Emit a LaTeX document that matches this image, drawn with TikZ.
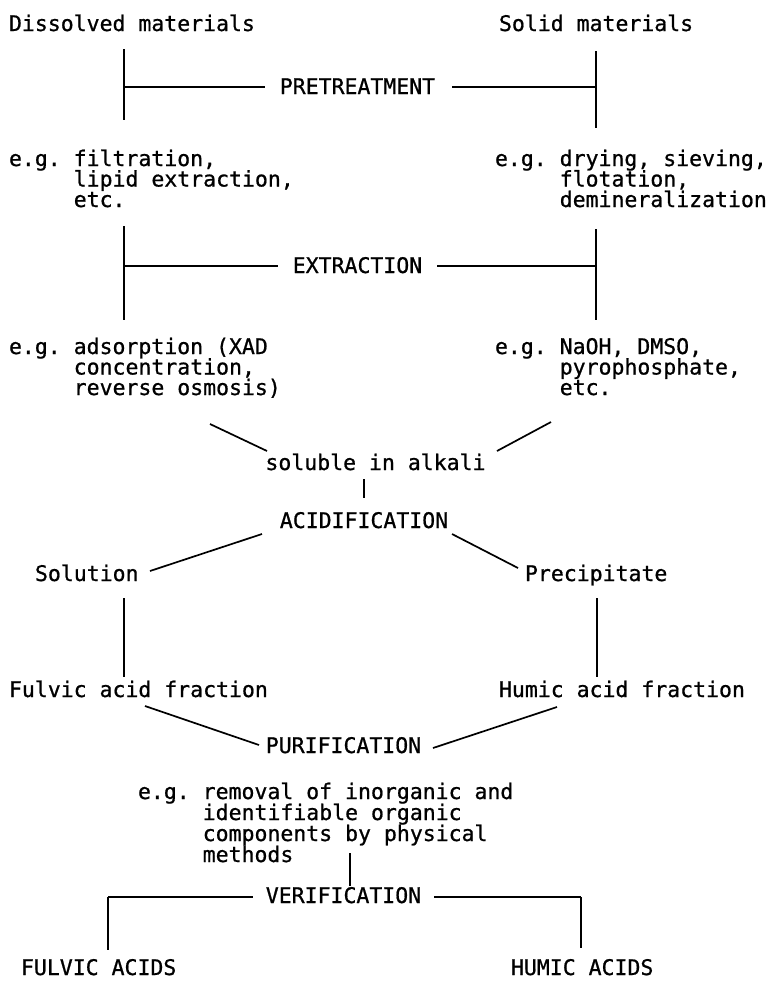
\documentclass[tikz,border=0pt]{standalone}
\usepackage{fontspec}
\newfontfamily\lgmono[FakeBold=0.8]{DejaVu Sans Mono}
\begin{document}
\begin{tikzpicture}[x=1pt,y=-1pt,
  txt/.style={anchor=base west,inner sep=0pt,outer sep=0pt,font=\lgmono\fontsize{21.5pt}{21pt}\selectfont\frenchspacing},
  ctxt/.style={txt,anchor=base},
  ln/.style={line width=1.7pt}]
\useasboundingbox (0,0) rectangle (770,997);

% ---------- top ----------
\node[txt] (dis) at (9,31) {Dissolved materials};
\node[txt] (sol) at (499,31) {Solid materials};
\node[ctxt] (pre) at (357.5,94) {PRETREATMENT};
\coordinate (a1) at (124,49);  \coordinate (a2) at (124,120); \coordinate (am) at (124,87);
\coordinate (b1) at (596,51);  \coordinate (b2) at (596,128); \coordinate (bm) at (596,87);
\draw[ln] (a1) -- (a2);
\draw[ln] (b1) -- (b2);
\draw[ln,shorten >=15pt] (am) -- (am -| pre.west);
\draw[ln,shorten >=17pt] (bm) -- (bm -| pre.east);

% ---------- pretreatment examples ----------
\node[txt] (l1a) at (9,166)       {e.g. filtration,};
\node[txt] (l1b) at (73.75,186.5) {lipid extraction,};
\node[txt] (l1c) at (73.75,207)   {etc.};
\node[txt] (r1a) at (495,166)     {e.g. drying, sieving,};
\node[txt] (r1b) at (559.75,186.5){flotation,};
\node[txt] (r1c) at (559.75,207)  {demineralization};

% ---------- extraction ----------
\node[ctxt] (ext) at (357.5,273) {EXTRACTION};
\coordinate (c1) at (124,226); \coordinate (c2) at (124,320); \coordinate (cm) at (124,266);
\coordinate (d1) at (596,229); \coordinate (d2) at (596,320); \coordinate (dm) at (596,266);
\draw[ln] (c1) -- (c2);
\draw[ln] (d1) -- (d2);
\draw[ln,shorten >=15pt] (cm) -- (cm -| ext.west);
\draw[ln,shorten >=15pt] (dm) -- (dm -| ext.east);

% ---------- extraction examples ----------
\node[txt] (l2a) at (9,354)       {e.g. adsorption (XAD};
\node[txt] (l2b) at (73.75,374.5) {concentration,};
\node[txt] (l2c) at (73.75,395)   {reverse osmosis)};
\node[txt] (r2a) at (495,354)     {e.g. NaOH, DMSO,};
\node[txt] (r2b) at (559.75,374.5){pyrophosphate,};
\node[txt] (r2c) at (559.75,395)  {etc.};

% ---------- soluble / acidification ----------
\node[ctxt] (alk) at (375.5,470) {soluble in alkali};
\coordinate (e1) at (210,424); \coordinate (e2) at (267,451);
\coordinate (f1) at (551,422); \coordinate (f2) at (497,451);
\draw[ln] (e1) -- (e2);
\draw[ln] (f1) -- (f2);
\node[ctxt] (acid) at (364,528) {ACIDIFICATION};
\coordinate (g1) at (364,479); \coordinate (g2) at (364,498);
\draw[ln] (g1) -- (g2);

\node[txt] (solu) at (35,581)  {Solution};
\node[txt] (prec) at (525,581) {Precipitate};
\coordinate (h1) at (262,534); \coordinate (h2) at (150,571);
\coordinate (i1) at (452,534); \coordinate (i2) at (518,568);
\draw[ln] (h1) -- (h2);
\draw[ln] (i1) -- (i2);

\coordinate (j1) at (124,598); \coordinate (j2) at (124,677);
\coordinate (k1) at (597,598); \coordinate (k2) at (597,677);
\draw[ln] (j1) -- (j2);
\draw[ln] (k1) -- (k2);

% ---------- fractions / purification ----------
\node[txt] (fa) at (9,697)   {Fulvic acid fraction};
\node[txt] (ha) at (499,697) {Humic acid fraction};
\node[ctxt] (pur) at (343.5,753) {PURIFICATION};
\coordinate (m1) at (145,706); \coordinate (m2) at (259,745);
\coordinate (n1) at (557,707); \coordinate (n2) at (433,748);
\draw[ln] (m1) -- (m2);
\draw[ln] (n1) -- (n2);

\node[txt] (p1) at (138,799)    {e.g. removal of inorganic and};
\node[txt] (p2) at (202.75,820) {identifiable organic};
\node[txt] (p3) at (202.75,841) {components by physical};
\node[txt] (p4) at (202.75,862) {methods};
\coordinate (q1) at (350,853); \coordinate (q2) at (350,886);
\draw[ln] (q1) -- (q2);

% ---------- verification ----------
\node[ctxt] (ver) at (343.5,903) {VERIFICATION};
\coordinate (s1) at (108,897); \coordinate (s2) at (108,950);
\coordinate (t1) at (581,897); \coordinate (t2) at (581,948);
\draw[ln,shorten >=13pt] (s1) -- (s1 -| ver.west);
\draw[ln,shorten >=13pt] (t1) -- (t1 -| ver.east);
\draw[ln] (s1) -- (s2);
\draw[ln] (t1) -- (t2);

\node[txt] (fac) at (21,975)  {FULVIC ACIDS};
\node[txt] (hac) at (511,975) {HUMIC ACIDS};
\end{tikzpicture}
\end{document}
